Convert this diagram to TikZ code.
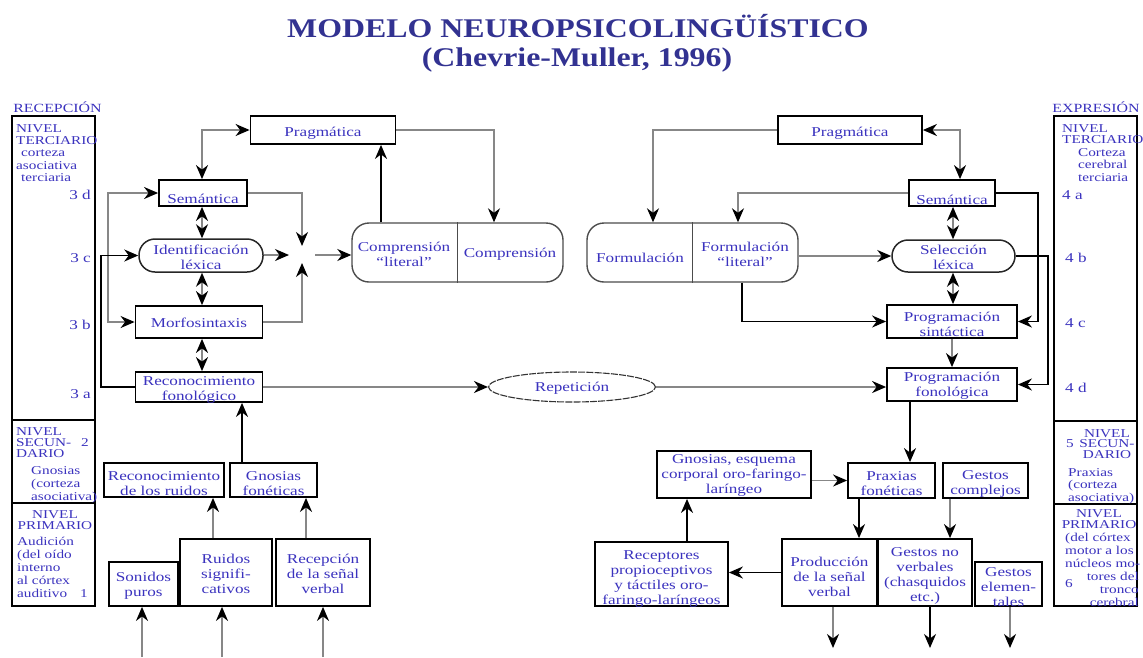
\documentclass[tikz,border=0pt]{standalone}
\usepackage{fontspec}
\setmainfont{Liberation Serif}[FakeStretch=1.27]
\newfontfamily\headfont{Liberation Serif}[FakeStretch=1.18]
\usetikzlibrary{arrows.meta,shapes.geometric}
\definecolor{ink}{RGB}{58,50,190}
\definecolor{headink}{RGB}{50,50,145}
\definecolor{wire}{RGB}{135,135,135}
\newcommand\bxf{\fontsize{13.5}{15}\selectfont}
\newcommand\colf{\fontsize{12}{12.4}\selectfont}
\begin{document}
\begin{tikzpicture}[x=1pt,y=-1pt,
  >={Stealth[length=14pt,width=12pt,inset=4.5pt,color=black]},
  box/.style={draw=black,line width=1.8pt,inner sep=0pt},
  pill/.style={draw=black!85,line width=1.5pt,rounded corners=16pt,inner sep=0pt},
  twin/.style={draw=black!70,line width=1.4pt,rounded corners=17pt,inner sep=0pt},
  bt/.style={text=ink,font=\bxf,align=center,inner sep=0pt},
  ct/.style={text=ink,font=\colf,inner sep=0pt},
  gw/.style={draw=wire,line width=1.6pt},
  bw/.style={draw=black,line width=1.6pt},
  colbox/.style={draw=black,line width=1.8pt}]
\useasboundingbox (0,0) rectangle (1143,657);

% ---------- title ----------
\node[text=headink,font=\headfont\bfseries\fontsize{27}{30}\selectfont] (ttl1) at (578,26) {MODELO NEUROPSICOLINGÜÍSTICO};
\node[text=headink,font=\headfont\bfseries\fontsize{27}{30}\selectfont] (ttl2) at (577,60) {(Chevrie-Muller, 1996)};

% ---------- side columns ----------
\node[ct,font=\fontsize{12.5}{13}\selectfont,anchor=base] (rec) at (57.5,112) {RECEPCIÓN};
\node[ct,font=\fontsize{12.5}{13}\selectfont,anchor=base] (exp) at (1096,112) {EXPRESIÓN};

\draw[colbox] (12,116) rectangle (95,606);
\draw[colbox] (12,420) -- (95,420);
\draw[colbox] (12,503) -- (95,503);
\draw[colbox] (1054,116) rectangle (1137,606);
\draw[colbox] (1054,421) -- (1137,421);
\draw[colbox] (1054,504) -- (1137,504);

% left column texts
\node[ct,anchor=north west,align=left] (lT) at (16,124) {NIVEL\\TERCIARIO\\\hspace*{5pt}corteza\\asociativa\\\hspace*{5pt}terciaria};
\node[ct,anchor=north west,align=left,font=\fontsize{12}{11}\selectfont] (lS) at (16,427) {NIVEL\\SECUN-\\DARIO};
\node[ct,anchor=base west] (l2) at (81,446) {2};
\node[ct,anchor=north west,align=left,font=\fontsize{12}{13}\selectfont] (lG) at (31,466) {Gnosias\\(corteza\\asociativa)};
\node[ct,anchor=north,align=center,font=\fontsize{12}{11}\selectfont] (lP) at (55,510) {NIVEL\\PRIMARIO};
\node[ct,anchor=north west,align=left,font=\fontsize{12}{13}\selectfont] (lA) at (17,537) {Audición\\(del oído\\interno\\al córtex\\auditivo};
\node[ct,anchor=base west] (l1) at (80,597) {1};

\node[bt,anchor=base east] (l3d) at (91,199) {3 d};
\node[bt,anchor=base east] (l3c) at (91,262) {3 c};
\node[bt,anchor=base east] (l3b) at (91,329) {3 b};
\node[bt,anchor=base east] (l3a) at (91,398) {3 a};

% right column texts
\node[ct,anchor=north west,align=left,font=\fontsize{12}{11.5}\selectfont] (rT1) at (1062,124) {NIVEL\\TERCIARIO};
\node[ct,anchor=north west,align=left,font=\fontsize{12}{12.5}\selectfont] (rT2) at (1078,148) {Corteza\\cerebral\\terciaria};
\node[ct,anchor=north,align=center,font=\fontsize{12}{10.5}\selectfont] (rS) at (1107,429) {NIVEL\\SECUN-\\DARIO};
\node[ct,anchor=base west] (r5) at (1066,447) {5};
\node[ct,anchor=north west,align=left,font=\fontsize{12}{12.5}\selectfont] (rPx) at (1068,468) {Praxias\\(corteza\\asociativa)};
\node[ct,anchor=north,align=center,font=\fontsize{12}{11}\selectfont] (rP) at (1099,509) {NIVEL\\PRIMARIO};
\node[ct,anchor=north west,align=left,font=\fontsize{12}{13}\selectfont] (rM) at (1065,533) {(del córtex\\motor a los\\núcleos mo-};
\node[ct,anchor=base west] (r6) at (1065,587) {6};
\node[ct,anchor=north east,align=right,font=\fontsize{12}{13}\selectfont] (rC) at (1139,572) {tores del\\tronco\\cerebral};

\node[bt,anchor=base west] (r4a) at (1062,199) {4 a};
\node[bt,anchor=base west] (r4b) at (1065,262) {4 b};
\node[bt,anchor=base west] (r4c) at (1065,327) {4 c};
\node[bt,anchor=base west] (r4d) at (1065,392) {4 d};

% ---------- reception side ----------
\node[box,minimum width=145pt,minimum height=28pt] (pragL) at (323,130) {};
\node[box,minimum width=88pt,minimum height=26pt] (semL) at (203,193) {};
\node[pill,minimum width=124pt,minimum height=33pt] (idL) at (201,255.5) {};
\node[box,minimum width=127pt,minimum height=32pt] (morfo) at (199,322) {};
\node[box,minimum width=127pt,minimum height=30pt] (recF) at (199,387) {};
\node[twin,minimum width=211pt,minimum height=59pt] (comp) at (457.5,252.5) {};
\draw[draw=black!70,line width=1.4pt] (comp.north) -- (comp.south);
\node[box,minimum width=120pt,minimum height=34pt] (recR) at (164,480) {};
\node[box,minimum width=87pt,minimum height=34pt] (gnF) at (273.5,480) {};
\node[box,minimum width=69pt,minimum height=44pt] (son) at (143.5,584) {};
\node[box,minimum width=92pt,minimum height=67pt] (rui) at (226,572.5) {};
\node[box,minimum width=94pt,minimum height=67pt] (recep) at (323,572.5) {};
\node[ellipse,draw=black!80,line width=1.1pt,dash pattern=on 7pt off 1.2pt,minimum width=167pt,minimum height=30pt,inner sep=0pt] (rep) at (572,387) {};

% ---------- expression side ----------
\node[box,minimum width=144pt,minimum height=28pt] (pragR) at (850,130) {};
\node[box,minimum width=86pt,minimum height=26pt] (semR) at (952,193) {};
\node[twin,minimum width=211pt,minimum height=59pt] (form) at (692.5,252.5) {};
\draw[draw=black!70,line width=1.4pt] (form.north) -- (form.south);
\node[pill,minimum width=123pt,minimum height=32pt] (sel) at (953.5,256) {};
\node[box,minimum width=130pt,minimum height=33pt] (psin) at (952,321.5) {};
\node[box,minimum width=130pt,minimum height=33pt] (pfon) at (952,384.5) {};
\node[box,minimum width=154pt,minimum height=47pt] (gnE) at (734,474.5) {};
\node[box,minimum width=87pt,minimum height=35pt] (prax) at (891.5,480.5) {};
\node[box,minimum width=85pt,minimum height=35pt] (gcom) at (985.5,480.5) {};
\node[box,minimum width=95pt,minimum height=67pt] (prod) at (829.5,572.5) {};
\node[box,minimum width=94pt,minimum height=67pt] (gnv) at (925,572.5) {};
\node[box,minimum width=67pt,minimum height=44pt] (gel) at (1008.5,584) {};
\node[box,minimum width=133pt,minimum height=64pt] (recp) at (661.5,574) {};

% ---------- box texts ----------
\node[bt] (t-pragL) at (323,133) {Pragmática};
\node[bt] (t-semL) at (203,199) {Semántica};
\node[bt] (t-idL) at (201,257.5) {Identificación\\léxica};
\node[bt] (t-morfo) at (199,322.5) {Morfosintaxis};
\node[bt] (t-recF) at (199,390) {Reconocimiento\\fonológico};
\node[bt] (t-compA) at (404,254.5) {Comprensión\\“literal”};
\node[bt] (t-compB) at (510,254) {Comprensión};
\node[bt] (t-rep) at (572,388) {Repetición};
\node[bt] (t-recR) at (164,483.5) {Reconocimiento\\de los ruidos};
\node[bt] (t-gnF) at (273.5,483.5) {Gnosias\\fonéticas};
\node[bt] (t-son) at (143.5,586) {Sonidos\\puros};
\node[bt] (t-rui) at (226,573.5) {Ruidos\\signifi-\\cativos};
\node[bt] (t-recep) at (323,573.5) {Recepción\\de la señal\\verbal};
\node[bt] (t-pragR) at (850,133) {Pragmática};
\node[bt] (t-semR) at (952,200) {Semántica};
\node[bt] (t-formA) at (640,257.5) {Formulación};
\node[bt] (t-formB) at (745,254.5) {Formulación\\“literal”};
\node[bt] (t-sel) at (953.5,257.5) {Selección\\léxica};
\node[bt] (t-psin) at (952,324) {Programación\\sintáctica};
\node[bt] (t-pfon) at (952,386) {Programación\\fonológica};
\node[bt] (t-gnE) at (734,475.5) {Gnosias, esquema\\corporal oro-faringo-\\laríngeo};
\node[bt] (t-prax) at (891.5,483.5) {Praxias\\fonéticas};
\node[bt] (t-gcom) at (985.5,483.5) {Gestos\\complejos};
\node[bt] (t-prod) at (829.5,577) {Producción\\de la señal\\verbal};
\node[bt] (t-gnv) at (925,575.5) {Gestos no\\verbales\\(chasquidos\\etc.)};
\node[bt] (t-gel) at (1008.5,587) {Gestos\\elemen-\\tales};
\node[bt] (t-recp) at (661.5,579.5) {Receptores\\propioceptivos\\y táctiles oro-\\faringo-laríngeos};

% ---------- guide coordinates ----------
\coordinate (jnN) at (302,246);
\coordinate (jnW) at (289,255);
\coordinate (jnS) at (302,263);
\coordinate (jnE) at (315,255);
\coordinate (x381) at (381,0);
\coordinate (x494) at (494,0);
\coordinate (x108) at (108,0);
\coordinate (x101) at (101,0);
\coordinate (x202) at (202,0);
\coordinate (x242) at (242,0);
\coordinate (x213) at (213,0);
\coordinate (x306) at (306,0);
\coordinate (in1) at (142,657);
\coordinate (in2) at (222,657);
\coordinate (in3) at (323,657);
\coordinate (x653) at (653,0);
\coordinate (x960) at (960,0);
\coordinate (x738) at (738,0);
\coordinate (x1038) at (1038,0);
\coordinate (x1048) at (1048,0);
\coordinate (x953) at (953,0);
\coordinate (x742) at (742,0);
\coordinate (x910) at (910,0);
\coordinate (x859) at (859,0);
\coordinate (x950) at (950,0);
\coordinate (x687) at (687,0);
\coordinate (out1) at (833,648);
\coordinate (out2) at (930,648);
\coordinate (out3) at (1010,648);

% ---------- reception connectors ----------
\draw[gw,<->] (pragL.west) -| (x202 |- semL.north);
\draw[gw,->] (semL.east) -| (jnN);
\draw[gw,->] (idL.east |- jnW) -- (jnW);
\draw[gw,->] (morfo.east) -| (jnS);
\draw[gw,->] (jnE) -- (jnE -| comp.west);
\draw[bw,->] (x381 |- comp.north) -- (x381 |- pragL.south);
\draw[gw,->] (pragL.east) -| (x494 |- comp.north);
\draw[gw,<->] (semL.west) -| (x108 |- morfo.west) -- (morfo.west);
\draw[bw,->] (recF.west) -| (x101 |- idL.west) -- (idL.west);
\draw[gw,<->] (x202 |- semL.south) -- (x202 |- idL.north);
\draw[gw,<->] (x202 |- idL.south) -- (x202 |- morfo.north);
\draw[gw,<->] (x202 |- morfo.south) -- (x202 |- recF.north);
\draw[gw,->] (recF.east) -- (rep.west);
\draw[gw,->] (rep.east) -- (rep.east -| pfon.west);
\draw[bw,->] (x242 |- gnF.north) -- (x242 |- recF.south);
\draw[gw,->] (x213 |- rui.north) -- (x213 |- recR.south);
\draw[gw,->] (x306 |- recep.north) -- (x306 |- gnF.south);
\draw[gw,->] (in1) -- (in1 |- son.south);
\draw[gw,->] (in2) -- (in2 |- rui.south);
\draw[gw,->] (in3) -- (in3 |- recep.south);

% ---------- expression connectors ----------
\draw[gw,->] (pragR.west) -| (x653 |- form.north);
\draw[gw,<->] (pragR.east) -| (x960 |- semR.north);
\draw[gw,->] (semR.west) -| (x738 |- form.north);
\draw[bw,->] (semR.east) -| (x1038 |- psin.east) -- (psin.east);
\draw[gw,->] (form.east |- sel.west) -- (sel.west);
\draw[bw,->] (sel.east) -| (x1048 |- pfon.east) -- (pfon.east);
\draw[gw,<->] (x953 |- semR.south) -- (x953 |- sel.north);
\draw[gw,<->] (x953 |- sel.south) -- (x953 |- psin.north);
\draw[bw,->] (x742 |- form.south) |- (psin.west);
\draw[gw,->] (psin.south) -- (pfon.north);
\draw[bw,->] (x910 |- pfon.south) -- (x910 |- prax.north);
\draw[gw,->] (gnE.east |- prax.west) -- (prax.west);
\draw[bw,->] (x859 |- prax.south) -- (x859 |- prod.north);
\draw[gw,->] (x950 |- gcom.south) -- (x950 |- gnv.north);
\draw[bw,->] (prod.west) -- (prod.west -| recp.east);
\draw[bw,->] (x687 |- recp.north) -- (x687 |- gnE.south);
\draw[gw,->] (out1 |- prod.south) -- (out1);
\draw[bw,->] (out2 |- gnv.south) -- (out2);
\draw[gw,->] (out3 |- gel.south) -- (out3);
\end{tikzpicture}
\end{document}
